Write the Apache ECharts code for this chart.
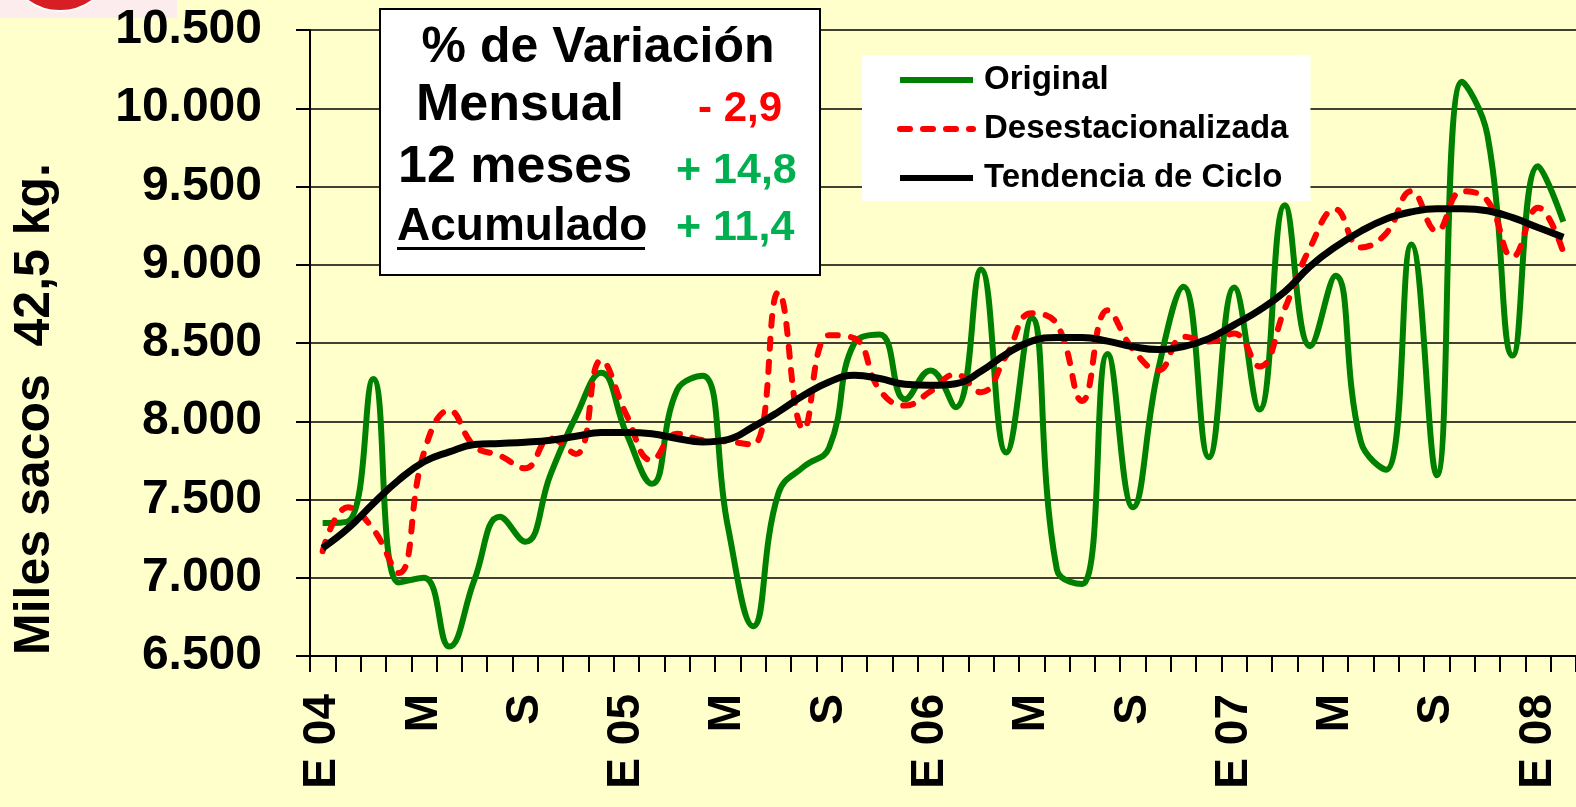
<!DOCTYPE html>
<html style="height: 100%">
<head>
    <meta charset="utf-8">
</head>
<body style="height: 100%; margin: 0; background: #ffffcc">
<div id="container" style="width: 1576px; height: 807px"></div>
<script type="text/javascript" src="https://cdn.jsdelivr.net/npm/echarts@6/dist/echarts.min.js"></script>
<script type="text/javascript">
    // meses ene-2004 .. feb-2008
    var meses = ['E 04', 'F', 'M', 'A', 'M', 'J', 'J', 'A', 'S', 'O', 'N', 'D',
        'E 05', 'F', 'M', 'A', 'M', 'J', 'J', 'A', 'S', 'O', 'N', 'D',
        'E 06', 'F', 'M', 'A', 'M', 'J', 'J', 'A', 'S', 'O', 'N', 'D',
        'E 07', 'F', 'M', 'A', 'M', 'J', 'J', 'A', 'S', 'O', 'N', 'D',
        'E 08', 'F'];

    var original = [7350, 7360, 8270, 6970, 7000, 6560, 6990, 7390, 7230, 7660, 8030, 8310,
        7920, 7600, 8200, 8290, 7330, 6690, 7540, 7710, 7830, 8500, 8555, 8140,
        8325, 8090, 8970, 7800, 8660, 7050, 6960, 8430, 7450, 8330, 8860, 7770,
        8855, 8075, 9380, 8480, 8930, 7870, 7690, 9130, 7655, 10170, 9830, 8420,
        9630, 9275];

    var desestacionalizada = [7170, 7450, 7310, 7030, 7800, 8070, 7840, 7780, 7700, 7890, 7790, 8390,
        8040, 7750, 7920, 7880, 7870, 7850, 8825, 7950, 8550, 8530, 8200, 8100,
        8190, 8300, 8185, 8420, 8690, 8620, 8130, 8710, 8460, 8325, 8540, 8510,
        8560, 8350, 8720, 9110, 9355, 9110, 9200, 9470, 9215, 9470, 9410, 9050,
        9365, 9080];

    var tendencia = [7190, 7315, 7475, 7624, 7741, 7804, 7851, 7858, 7866, 7879, 7904, 7928,
        7928, 7920, 7890, 7868, 7883, 7964, 8060, 8166, 8251, 8294, 8273, 8236,
        8230, 8240, 8319, 8430, 8512, 8535, 8535, 8512, 8477, 8458, 8477, 8528,
        8616, 8710, 8828, 8990, 9114, 9214, 9293, 9338, 9358, 9358, 9345, 9301,
        9238, 9176];

    var ticksY = {min: 6500, max: 10500, step: 500};

    var fuente = 'Arial, "Liberation Sans", sans-serif';
    var verde = '#00b050';

    function miles(v) {
        return String(v).replace(/\B(?=(\d{3})+(?!\d))/g, '.');
    }

    function texto(txt, x, y, size, color, align) {
        return {
            type: 'text', x: x, y: y, z: 101,
            style: {
                text: txt, font: 'bold ' + size + 'px ' + fuente, fill: color || '#000',
                textAlign: align || 'left', textVerticalAlign: 'middle'
            }
        };
    }

    var myChart = echarts.init(document.getElementById('container'));

    var option = {
        animation: false,
        backgroundColor: '#ffffcc',
        grid: {left: 310, top: 30, right: -4, bottom: 151},
        legend: {
            orient: 'vertical',
            left: 862,
            top: 55,
            backgroundColor: '#ffffff',
            padding: [5, 22, 3, 35],
            itemWidth: 73,
            itemHeight: 14,
            itemGap: 9,
            itemStyle: {opacity: 0},
            lineStyle: {width: 6},
            textStyle: {
                fontFamily: fuente, fontWeight: 'bold', fontSize: 33, lineHeight: 40,
                color: '#000', padding: [0, 0, 0, 6]
            },
            data: ['Original', 'Desestacionalizada', 'Tendencia de Ciclo']
        },
        xAxis: {
            type: 'category',
            data: meses,
            boundaryGap: true,
            axisLine: {lineStyle: {color: '#000', width: 2}},
            axisTick: {show: true, interval: 0, length: 16, lineStyle: {color: '#000', width: 2}},
            axisLabel: {
                interval: 3, rotate: 90, margin: 38,
                fontFamily: fuente, fontWeight: 'bold', fontSize: 46, color: '#000'
            },
            splitLine: {show: false}
        },
        yAxis: {
            type: 'value',
            min: ticksY.min,
            max: ticksY.max,
            interval: ticksY.step,
            axisLine: {show: true, lineStyle: {color: '#000', width: 2}},
            axisTick: {show: true, length: 14, lineStyle: {color: '#000', width: 2}},
            axisLabel: {
                margin: 48, formatter: miles,
                fontFamily: fuente, fontWeight: 'bold', fontSize: 48, color: '#000'
            },
            splitLine: {lineStyle: {color: '#000', width: 1.6}}
        },
        series: [
            {
                name: 'Original', type: 'line', smooth: 0.45, symbol: 'none',
                lineStyle: {color: '#008000', width: 6},
                itemStyle: {color: '#008000'},
                data: original
            },
            {
                name: 'Desestacionalizada', type: 'line', smooth: 0.45, symbol: 'none',
                lineStyle: {color: '#ff0000', width: 6, type: [10, 13], cap: 'round'},
                itemStyle: {color: '#ff0000'},
                data: desestacionalizada
            },
            {
                name: 'Tendencia de Ciclo', type: 'line', smooth: 0.45, symbol: 'none',
                lineStyle: {color: '#000', width: 7},
                itemStyle: {color: '#000'},
                data: tendencia
            }
        ],
        graphic: [
            // logo recortado arriba a la izquierda
            {type: 'rect', shape: {x: 0, y: 0, width: 177, height: 18}, style: {fill: '#fdecee'}, z: -10},
            {
                type: 'circle', x: 60, y: -44, scaleX: 1.0, shape: {cx: 0, cy: 0, r: 55},
                style: {fill: '#d81e25', stroke: '#ffffff', lineWidth: 2}, z: -10
            },
            // nombre del eje Y
            {
                type: 'text', x: 35, y: 409, rotation: Math.PI / 2, z: 101,
                style: {
                    text: 'Miles sacos  42,5 kg.', font: 'bold 50px ' + fuente, fill: '#000',
                    textAlign: 'center', textVerticalAlign: 'middle'
                }
            },
            // cuadro de variaciones
            {
                type: 'rect', z: 100, shape: {x: 380, y: 9, width: 440, height: 266},
                style: {fill: '#ffffff', stroke: '#000', lineWidth: 2}
            },
            texto('% de Variación', 598, 48, 50, '#000', 'center'),
            texto('Mensual', 416, 106, 52),
            texto('- 2,9', 698, 109, 42, '#ff0000'),
            texto('12 meses', 398, 168, 52),
            texto('+ 14,8', 676, 171, 43, verde),
            texto('Acumulado', 397, 227, 46),
            {type: 'rect', z: 101, shape: {x: 397, y: 247, width: 248, height: 3}, style: {fill: '#000'}},
            texto('+ 11,4', 676, 228, 43, verde)
        ]
    };

    myChart.setOption(option);
</script>
</body>
</html>
